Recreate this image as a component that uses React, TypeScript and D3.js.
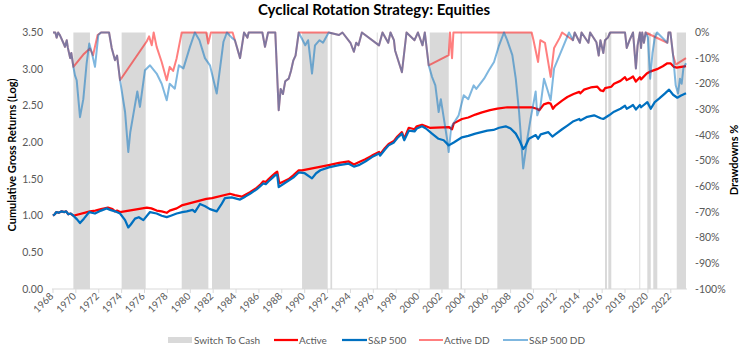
import React from "react";
import * as d3 from "d3";

const chartTitle = "Cyclical Rotation Strategy: Equities";
const leftAxisTitle = "Cumulative Gross Returns (Log)";
const rightAxisTitle = "Drawdowns %";
const leftTicks = [0, 0.5, 1, 1.5, 2, 2.5, 3, 3.5];
const rightTicks = [0, -10, -20, -30, -40, -50, -60, -70, -80, -90, -100];
const xTickYears = [1968, 1970, 1972, 1974, 1976, 1978, 1980, 1982, 1984, 1986, 1988, 1990, 1992, 1994, 1996, 1998, 2000, 2002, 2004, 2006, 2008, 2010, 2012, 2014, 2016, 2018, 2020, 2022];

// Switch-to-cash periods (decimal years, start / end)
const cashStart = [1969.78, 1974.0, 1979.25, 1981.9, 1989.77, 1992.25, 1996.3, 2000.93, 2003.62, 2006.84, 2016.25, 2016.54, 2019.25, 2019.95, 2020.47, 2022.52];
const cashEnd = [1971.23, 1976.1, 1981.58, 1983.47, 1992.01, 1992.4, 1996.38, 2002.59, 2003.75, 2009.84, 2016.42, 2016.8, 2019.33, 2020.25, 2020.82, 2023.33];

// Active cumulative gross return
const activeT = [1968.0, 1968.15, 1968.3, 1968.5, 1968.76, 1969.0, 1969.15, 1969.34, 1969.55, 1969.78, 1971.23, 1971.7, 1972.2, 1972.8, 1973.2, 1973.42, 1973.6, 1973.86, 1976.2, 1976.6, 1977.06, 1977.5, 1977.94, 1978.2, 1978.4, 1978.81, 1979.25, 1981.4, 1981.9, 1983.47, 1983.9, 1984.5, 1985.22, 1985.8, 1986.1, 1986.38, 1986.6, 1986.85, 1987.2, 1987.5, 1987.6, 1987.78, 1988.2, 1988.6, 1989.0, 1989.48, 1989.77, 1992.1, 1993.0, 1993.85, 1994.3, 1994.72, 1995.3, 1995.88, 1996.5, 1996.6, 1997.0, 1997.34, 1997.8, 1998.1, 1998.5, 1998.7, 1999.1, 1999.6, 1999.8, 2000.26, 2000.6, 2000.93, 2002.59, 2002.88, 2003.03, 2003.75, 2004.3, 2004.92, 2005.5, 2006.2, 2006.84, 2007.71, 2009.84, 2010.3, 2010.5, 2010.9, 2011.3, 2011.5, 2011.7, 2011.9, 2012.5, 2012.96, 2013.5, 2014.0, 2014.1, 2014.42, 2015.0, 2015.58, 2015.87, 2016.1, 2016.25, 2016.8, 2017.04, 2017.6, 2018.0, 2018.15, 2018.5, 2018.7, 2018.95, 2019.3, 2019.4, 2019.9, 2020.25, 2020.8, 2021.3, 2021.7, 2021.97, 2022.28, 2022.52, 2023.33];
const activeV = [1.0, 1.02, 1.05, 1.04, 1.06, 1.05, 1.06, 1.02, 1.03, 1.0, 1.06, 1.07, 1.09, 1.11, 1.09, 1.06, 1.07, 1.05, 1.11, 1.1, 1.07, 1.06, 1.04, 1.07, 1.08, 1.1, 1.14, 1.23, 1.24, 1.3, 1.28, 1.26, 1.32, 1.38, 1.42, 1.47, 1.46, 1.5, 1.55, 1.59, 1.6, 1.44, 1.47, 1.5, 1.55, 1.62, 1.62, 1.69, 1.72, 1.74, 1.7, 1.73, 1.77, 1.82, 1.87, 1.84, 1.92, 1.98, 2.02, 2.08, 2.14, 2.05, 2.2, 2.18, 2.22, 2.24, 2.22, 2.2, 2.21, 2.18, 2.26, 2.32, 2.34, 2.38, 2.41, 2.44, 2.46, 2.48, 2.48, 2.46, 2.44, 2.52, 2.54, 2.53, 2.46, 2.5, 2.57, 2.62, 2.66, 2.69, 2.67, 2.72, 2.75, 2.76, 2.71, 2.7, 2.74, 2.76, 2.8, 2.84, 2.89, 2.85, 2.88, 2.9, 2.83, 2.89, 2.86, 2.94, 2.97, 3.0, 3.04, 3.08, 3.08, 3.03, 3.02, 3.04];

// S&P 500 cumulative gross return
const spxT = [1968.0, 1968.15, 1968.3, 1968.5, 1968.76, 1969.0, 1969.15, 1969.34, 1969.55, 1969.78, 1970.1, 1970.36, 1970.7, 1971.17, 1971.67, 1972.2, 1972.69, 1973.0, 1973.42, 1973.86, 1974.3, 1974.58, 1974.8, 1975.17, 1975.5, 1975.9, 1976.48, 1977.06, 1977.5, 1977.94, 1978.3, 1978.81, 1979.3, 1979.69, 1980.2, 1980.4, 1980.85, 1981.3, 1981.72, 1982.31, 1982.7, 1983.03, 1983.62, 1984.35, 1984.8, 1985.22, 1985.8, 1986.1, 1986.38, 1986.6, 1986.85, 1987.2, 1987.4, 1987.6, 1987.73, 1988.2, 1988.6, 1989.0, 1989.48, 1990.0, 1990.64, 1991.0, 1991.37, 1992.1, 1993.0, 1993.85, 1994.3, 1994.72, 1995.3, 1995.88, 1996.5, 1996.6, 1997.0, 1997.34, 1997.8, 1998.1, 1998.5, 1998.7, 1999.1, 1999.6, 1999.8, 2000.26, 2000.6, 2001.13, 2001.7, 2002.15, 2002.59, 2003.03, 2003.75, 2004.3, 2004.92, 2005.96, 2006.5, 2007.0, 2007.57, 2008.0, 2008.45, 2008.8, 2009.1, 2009.3, 2009.6, 2010.2, 2010.4, 2010.63, 2011.3, 2011.65, 2011.9, 2012.5, 2012.96, 2013.5, 2014.0, 2014.1, 2014.7, 2015.3, 2015.87, 2016.1, 2016.6, 2017.04, 2017.6, 2018.0, 2018.15, 2018.5, 2018.7, 2018.95, 2019.3, 2019.4, 2019.95, 2020.25, 2020.6, 2021.0, 2021.5, 2021.85, 2022.2, 2022.57, 2022.9, 2023.33];
const spxV = [1.0, 1.02, 1.05, 1.04, 1.06, 1.05, 1.06, 1.02, 1.03, 1.0, 0.95, 0.9, 0.96, 1.05, 1.03, 1.07, 1.1, 1.08, 1.06, 1.03, 0.94, 0.84, 0.88, 0.96, 0.98, 0.94, 1.05, 1.03, 1.0, 0.98, 1.0, 1.03, 1.05, 1.06, 1.08, 1.05, 1.16, 1.13, 1.09, 1.06, 1.15, 1.24, 1.25, 1.22, 1.26, 1.3, 1.36, 1.4, 1.44, 1.43, 1.47, 1.52, 1.55, 1.56, 1.39, 1.44, 1.48, 1.52, 1.59, 1.58, 1.51, 1.58, 1.62, 1.66, 1.69, 1.71, 1.67, 1.69, 1.74, 1.8, 1.85, 1.82, 1.9, 1.96, 2.0, 2.06, 2.12, 2.03, 2.16, 2.15, 2.19, 2.22, 2.19, 2.12, 2.05, 2.03, 1.96, 2.0, 2.07, 2.09, 2.12, 2.16, 2.17, 2.2, 2.22, 2.19, 2.12, 2.02, 1.91, 1.95, 2.05, 2.1, 2.05, 2.11, 2.14, 2.08, 2.11, 2.18, 2.23, 2.29, 2.32, 2.3, 2.35, 2.37, 2.33, 2.32, 2.37, 2.42, 2.46, 2.5, 2.46, 2.49, 2.51, 2.45, 2.51, 2.48, 2.55, 2.46, 2.55, 2.6, 2.67, 2.72, 2.65, 2.61, 2.64, 2.67];

// Active drawdown (%)
const activeDdT = [1968.0, 1968.2, 1968.32, 1968.45, 1968.6, 1968.9, 1969.05, 1969.2, 1969.3, 1969.5, 1969.6, 1969.78, 1970.65, 1971.23, 1971.5, 1971.9, 1972.2, 1972.9, 1973.13, 1973.42, 1973.6, 1973.86, 1976.2, 1976.4, 1976.63, 1976.8, 1977.06, 1977.5, 1977.94, 1978.2, 1978.5, 1978.81, 1979.25, 1981.4, 1981.57, 1981.8, 1983.7, 1983.9, 1984.35, 1984.7, 1985.0, 1985.1, 1985.3, 1986.3, 1986.53, 1986.8, 1987.43, 1987.73, 1987.9, 1988.1, 1988.3, 1988.6, 1988.8, 1989.0, 1989.2, 1989.48, 1992.1, 1993.0, 1993.3, 1994.0, 1994.3, 1994.5, 1994.7, 1995.0, 1996.5, 1996.8, 1997.3, 1997.5, 1997.8, 1997.9, 1998.5, 1998.9, 1999.6, 1999.9, 2000.3, 2000.5, 2000.84, 2002.59, 2002.7, 2002.88, 2003.0, 2009.84, 2010.0, 2010.4, 2010.6, 2011.0, 2011.5, 2011.8, 2012.3, 2012.5, 2013.45, 2013.6, 2014.05, 2014.2, 2014.8, 2014.95, 2015.5, 2015.7, 2015.85, 2016.1, 2016.25, 2016.5, 2016.7, 2018.0, 2018.15, 2018.4, 2018.7, 2018.95, 2019.1, 2019.3, 2019.4, 2019.5, 2019.65, 2019.8, 2021.7, 2021.8, 2021.97, 2022.2, 2022.43, 2023.33];
const activeDdV = [0, 0, -2, 0, -1, -4, -5.6, -3, -6, -10, -8, -13.4, -8.6, -6.2, -8.9, -1, 0, 0, -6, -10.8, -9, -18.6, -3.4, -1.5, -5, 0, -5.6, -11.5, -18.6, -13.4, -15, -10, 0, 0, -4.3, 0, 0, -3, -10, 0, -2, 0, 0, 0, -5.6, 0, 0, -30.3, -22, -24, -19, -18, -15, -11, -9, 0, 0, -1, 0, -4, -7.5, -4, -5, 0, -5, 0, -4, 0, -3, -7, -15.5, 0, -3, 0, -5, 0, -12.8, -8.8, 0, -10, 0, 0, -3, -11.5, -3, -4, -17.3, -6, -2, 0, -3, 0, -4, 0, -4, 0, -3.8, -9, -3, -8, -3, -2, 0, 0, -6, -3, 0, -14, -5, 0, -6, 0, -4, 0, -4, 0, 0, -8.8, -12.5, -10];

// S&P 500 drawdown (%)
const spxDdT = [1968.0, 1968.2, 1968.32, 1968.45, 1968.6, 1968.9, 1969.05, 1969.2, 1969.3, 1969.5, 1969.6, 1969.78, 1969.92, 1970.07, 1970.36, 1970.65, 1970.94, 1971.17, 1971.4, 1971.67, 1971.96, 1972.2, 1972.9, 1973.13, 1973.42, 1973.6, 1973.86, 1974.3, 1974.58, 1974.75, 1975.02, 1975.37, 1975.6, 1976.04, 1976.48, 1977.06, 1977.5, 1977.94, 1978.2, 1978.65, 1979.0, 1979.4, 1979.97, 1980.4, 1980.8, 1981.28, 1981.72, 1982.31, 1982.6, 1982.9, 1983.2, 1983.62, 1983.9, 1984.35, 1984.7, 1985.0, 1985.1, 1985.3, 1986.3, 1986.53, 1986.8, 1987.43, 1987.73, 1987.9, 1988.1, 1988.3, 1988.6, 1988.8, 1989.0, 1989.2, 1989.48, 1990.05, 1990.3, 1990.64, 1990.9, 1991.3, 1991.6, 1992.1, 1993.0, 1993.3, 1994.0, 1994.3, 1994.5, 1994.7, 1995.0, 1996.5, 1996.8, 1997.3, 1997.5, 1997.8, 1997.9, 1998.5, 1998.9, 1999.6, 1999.9, 2000.3, 2000.5, 2000.84, 2001.13, 2001.42, 2001.71, 2001.9, 2002.44, 2002.59, 2002.8, 2003.46, 2003.9, 2004.3, 2004.77, 2005.0, 2005.68, 2006.1, 2006.55, 2006.99, 2007.42, 2007.7, 2008.15, 2008.45, 2008.74, 2009.1, 2009.46, 2009.75, 2010.19, 2010.33, 2010.6, 2010.92, 2011.5, 2011.8, 2012.52, 2013.1, 2013.45, 2013.6, 2014.05, 2014.2, 2014.8, 2014.95, 2015.5, 2015.7, 2015.85, 2016.1, 2016.25, 2016.5, 2016.7, 2018.0, 2018.15, 2018.4, 2018.7, 2018.95, 2019.1, 2019.3, 2019.4, 2019.5, 2019.65, 2019.8, 2020.0, 2020.2, 2020.4, 2020.6, 2020.8, 2021.7, 2021.8, 2021.97, 2022.2, 2022.43, 2022.63, 2022.8, 2022.95, 2023.1, 2023.33];
const spxDdV = [0, 0, -2, 0, -1, -4, -5.6, -3, -6, -10, -8, -13.4, -16.7, -18.6, -33, -26, -12, -4.3, -8, -13.4, -1, 0, 0, -6, -10.8, -9, -18.6, -31, -46.6, -39, -32, -23, -29, -14.7, -12.8, -16, -20, -26.4, -20, -21.9, -12.8, -14, -5.6, 0, -3, -10, -12.8, -23.8, -14, -3.6, 0, -2, -3, -10, 0, -2, 0, 0, 0, -5.6, 0, 0, -30.3, -22, -24, -19, -18, -15, -11, -9, 0, -5, -3, -16, -5, -3, -4, 0, -1, 0, -4, -7.5, -4, -5, 0, -5, 0, -4, 0, -3, -7, -15.5, 0, -3, 0, -5, 0, -12.8, -17.3, -20.6, -31, -26, -41.4, -46.6, -37, -32.3, -24.5, -26, -20.6, -22, -18, -14.7, -11.5, -5, 0, -3, -8.8, -18, -31, -53, -41.4, -33.6, -23, -32.3, -29, -18, -26.4, -14, -6.3, 0, -3, 0, -4, 0, -4, 0, -3.8, -9, -3, -8, -3, -2, 0, 0, -6, -3, 0, -14, -5, 0, -6, 0, -4, 0, -2, -18, -8, -2, 0, -4, 0, 0, -8.8, -20.6, -23.8, -18, -20, -14, -12];

const FONT = "Lato, 'Open Sans', sans-serif";
const AXIS_COLOR = "#595959";
const RED = "#FF0000";
const BLUE = "#0070C0";
const BAND = "#D9D9D9";

export default function App() {
  const W = 748;
  const H = 349;
  const left = 53;
  const right = 686;
  const top = 32.5;
  const bottom = 289;

  const x = d3.scaleLinear().domain([1968, 2023.33]).range([left, right]);
  const yL = d3.scaleLinear().domain([0, 3.5]).range([bottom, top]);
  const yR = d3.scaleLinear().domain([-100, 0]).range([bottom, top]);

  const mk = (ts: number[], vs: number[]) => ts.map((t, i) => [t, vs[i]] as [number, number]);
  const lineL = d3.line<[number, number]>().x((d) => x(d[0])).y((d) => yL(d[1]));
  const lineR = d3.line<[number, number]>().x((d) => x(d[0])).y((d) => yR(d[1]));

  return (
    <svg width={W} height={H} style={{ position: "absolute", left: 0, top: 0, background: "#fff", fontFamily: FONT }}>
      <rect x={0} y={0} width={W} height={H} fill="#fff" />
      <text x={374} y={15} textAnchor="middle" fontSize={15} fontWeight="bold" fill="#000">
        {chartTitle}
      </text>

      {/* cash bands */}
      {cashStart.map((s, i) => (
        <rect key={"b" + i} x={x(s)} y={top} width={x(cashEnd[i]) - x(s)} height={bottom - top} fill={BAND} />
      ))}

      {/* x axis */}
      <line x1={left - 1} x2={right + 1} y1={bottom} y2={bottom} stroke={BAND} strokeWidth={1} />
      {xTickYears.map((yr) => (
        <g key={"xt" + yr}>
          <line x1={x(yr)} x2={x(yr)} y1={bottom} y2={bottom + 4} stroke={BAND} />
          <text transform={`translate(${x(yr) + 1},${bottom + 8}) rotate(-45)`} textAnchor="end" fontSize={10} fill={AXIS_COLOR}>
            {yr}
          </text>
        </g>
      ))}

      {/* left axis labels */}
      {leftTicks.map((v) => (
        <text key={"l" + v} x={43} y={yL(v)} dy="0.35em" textAnchor="end" fontSize={10.5} fill={AXIS_COLOR}>
          {v.toFixed(2)}
        </text>
      ))}
      {/* right axis labels */}
      {rightTicks.map((v) => (
        <text key={"r" + v} x={695} y={yR(v)} dy="0.35em" textAnchor="start" fontSize={10.5} fill={AXIS_COLOR}>
          {v + "%"}
        </text>
      ))}

      <text transform={`translate(16,155) rotate(-90)`} textAnchor="middle" fontSize={11} fontWeight="bold" fill="#000">
        {leftAxisTitle}
      </text>
      <text transform={`translate(738,160) rotate(-90)`} textAnchor="middle" fontSize={11} fontWeight="bold" fill="#000">
        {rightAxisTitle}
      </text>

      {/* cumulative lines */}
      <path d={lineL(mk(activeT, activeV)) || ""} fill="none" stroke={RED} strokeWidth={2.25} strokeLinejoin="round" />
      <path d={lineL(mk(spxT, spxV)) || ""} fill="none" stroke={BLUE} strokeWidth={2.25} strokeLinejoin="round" />
      {/* drawdown lines */}
      <path d={lineR(mk(activeDdT, activeDdV)) || ""} fill="none" stroke={RED} strokeOpacity={0.5} strokeWidth={2} strokeLinejoin="round" />
      <path d={lineR(mk(spxDdT, spxDdV)) || ""} fill="none" stroke={BLUE} strokeOpacity={0.5} strokeWidth={2} strokeLinejoin="round" />

      {/* legend */}
      <g fontSize={10} fill={AXIS_COLOR}>
        <rect x={168} y={337} width={24} height={6} fill={BAND} />
        <text x={194} y={340} dy="0.35em">Switch To Cash</text>
        <line x1={274} x2={298} y1={340} y2={340} stroke={RED} strokeWidth={2.25} />
        <text x={299} y={340} dy="0.35em">Active</text>
        <line x1={342} x2={367} y1={340} y2={340} stroke={BLUE} strokeWidth={2.25} />
        <text x={368} y={340} dy="0.35em">S&amp;P 500</text>
        <line x1={419} x2={443} y1={340} y2={340} stroke={RED} strokeOpacity={0.5} strokeWidth={2} />
        <text x={444} y={340} dy="0.35em">Active DD</text>
        <line x1={503} x2={528} y1={340} y2={340} stroke={BLUE} strokeOpacity={0.5} strokeWidth={2} />
        <text x={529} y={340} dy="0.35em">S&amp;P 500 DD</text>
      </g>
    </svg>
  );
}
